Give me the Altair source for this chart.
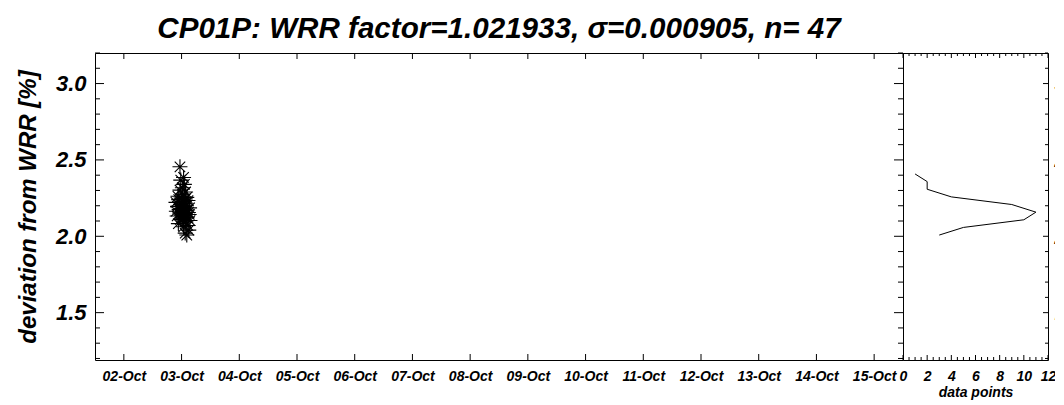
import altair as alt
import pandas as pd

FONT = "Liberation Sans"
TITLE = "CP01P: WRR factor=1.021933, σ=0.000905, n= 47"

# measurement times (local) and deviation from WRR [%]
times = [
    "2023-10-03T02:10", "2023-10-03T01:30", "2023-10-03T03:00",
    "2023-10-03T00:50", "2023-10-03T02:40", "2023-10-02T22:40", "2023-10-03T01:50", "2023-10-03T03:30",
    "2023-10-02T23:30", "2023-10-03T00:20", "2023-10-03T02:20", "2023-10-03T01:10", "2023-10-02T22:10",
    "2023-10-03T00:00", "2023-10-03T03:10", "2023-10-03T01:40", "2023-10-02T23:10", "2023-10-03T02:50",
    "2023-10-03T00:30", "2023-10-02T21:50", "2023-10-03T01:20", "2023-10-03T02:30", "2023-10-02T23:00",
    "2023-10-03T00:10", "2023-10-03T03:20", "2023-10-03T01:00", "2023-10-02T22:20", "2023-10-03T02:00",
    "2023-10-03T00:40",
    "2023-10-02T23:40", "2023-10-03T01:50", "2023-10-02T21:40", "2023-10-03T00:50", "2023-10-03T02:40",
    "2023-10-02T22:50", "2023-10-03T01:30", "2023-10-02T23:50", "2023-10-03T02:10",
    "2023-10-02T22:30", "2023-10-03T00:30", "2023-10-03T01:40", "2023-10-02T23:20",
    "2023-10-03T00:20", "2023-10-03T01:10",
    "2023-10-02T23:40", "2023-10-03T00:50",
    "2023-10-02T23:20",
]
deviation = [
    2.008, 2.021, 2.040,
    2.062, 2.071, 2.083, 2.094, 2.103,
    2.110, 2.115, 2.121, 2.127, 2.133, 2.138, 2.143, 2.148, 2.152, 2.156,
    2.160, 2.164, 2.168, 2.172, 2.176, 2.181, 2.186, 2.191, 2.196, 2.200, 2.205,
    2.210, 2.216, 2.222, 2.228, 2.234, 2.240, 2.245, 2.250, 2.255,
    2.262, 2.275, 2.290, 2.302,
    2.318, 2.340,
    2.368, 2.385,
    2.455,
]

# histogram of deviations
hist_bins = [2.008, 2.058, 2.108, 2.158, 2.208, 2.258, 2.308, 2.358, 2.408]
hist_counts = [3, 5, 10, 11, 9, 4, 2, 2, 1]

# tick positions
y_major = [1.5, 2.0, 2.5, 3.0]
y_minor = [1.2, 1.3, 1.4, 1.6, 1.7, 1.8, 1.9, 2.1, 2.2, 2.3, 2.4, 2.6, 2.7, 2.8, 2.9, 3.1, 3.2]
days = [2, 3, 4, 5, 6, 7, 8, 9, 10, 11, 12, 13, 14, 15]
hx_major = [0, 2, 4, 6, 8, 10, 12]
hx_minor = [0.5, 1, 1.5, 2.5, 3, 3.5, 4.5, 5, 5.5, 6.5, 7, 7.5, 8.5, 9, 9.5, 10.5, 11, 11.5]

W_MAIN, W_HIST, H = 808, 145, 307
Y_DOMAIN = [1.19, 3.20]
X_DOMAIN = [alt.DateTime(year=2023, month=10, date=1, hours=12),
            alt.DateTime(year=2023, month=10, date=15, hours=12)]

df = pd.DataFrame({"time": times, "dev": deviation})
hist_df = pd.DataFrame({"dev": hist_bins, "count": hist_counts})
ymaj_df = pd.DataFrame({"dev": y_major})
ymin_df = pd.DataFrame({"dev": y_minor})
day_df = pd.DataFrame({"time": [f"2023-10-{d:02d}T00:00" for d in days]})
hxmaj_df = pd.DataFrame({"count": hx_major})
hxmin_df = pd.DataFrame({"count": hx_minor})

yscale = alt.Scale(domain=Y_DOMAIN, nice=False, zero=False)
xscale = alt.Scale(domain=X_DOMAIN, nice=False)
hscale = alt.Scale(domain=[0, 12], nice=False, zero=False)

label_style = dict(labelFont=FONT, labelFontStyle="italic", labelFontWeight="bold",
                   labelColor="black", titleFont=FONT, titleFontStyle="italic",
                   titleFontWeight="bold", titleColor="black", ticks=False, tickSize=0,
                   domain=False, grid=False, labelFlush=False, labelOverlap=False)

X_MAIN = alt.X("time:T", scale=xscale,
               axis=alt.Axis(title=None, format="%d-%b", labelFontSize=14, labelPadding=9,
                             values=[alt.DateTime(year=2023, month=10, date=d) for d in days],
                             **label_style))
Y_MAIN = alt.Y("dev:Q", scale=yscale,
               axis=alt.Axis(title="deviation from WRR [%]", format=".1f", values=y_major,
                             labelFontSize=22, labelPadding=9, titleFontSize=24,
                             titlePadding=15, **label_style))
X_HIST = alt.X("count:Q", scale=hscale,
               axis=alt.Axis(title="data points", values=hx_major, labelFontSize=14,
                             labelPadding=9, titleFontSize=14, titlePadding=2, **label_style))
Y_HIST = alt.Y("dev:Q", scale=yscale,
               axis=alt.Axis(title=None, orient="right", format=".1f", values=y_major,
                             labelFontSize=22, labelPadding=6, **label_style))

star = "M0,-1L0,1M-1,0L1,0M-0.7,-0.7L0.7,0.7M-0.7,0.7L0.7,-0.7"

points = alt.Chart(df).mark_point(shape=star, filled=False, stroke="black",
                                  strokeWidth=1.1, size=225, opacity=1).encode(
    x=X_MAIN, y=Y_MAIN)


def rules(data, **enc):
    return alt.Chart(data).mark_rule(color="black", strokeWidth=1).encode(**enc)


main = alt.layer(
    rules(ymaj_df, y=Y_MAIN, x=alt.value(0), x2=alt.value(9)),
    rules(ymin_df, y=Y_MAIN, x=alt.value(0), x2=alt.value(5)),
    rules(ymaj_df, y=Y_MAIN, x=alt.value(W_MAIN), x2=alt.value(W_MAIN - 9)),
    rules(ymin_df, y=Y_MAIN, x=alt.value(W_MAIN), x2=alt.value(W_MAIN - 5)),
    rules(day_df, x=X_MAIN, y=alt.value(H), y2=alt.value(H - 6)),
    rules(day_df, x=X_MAIN, y=alt.value(0), y2=alt.value(6)),
    points,
).properties(
    width=W_MAIN, height=H,
    title=alt.TitleParams(TITLE, font=FONT, fontSize=29.6, fontStyle="italic",
                          fontWeight="bold", color="black", anchor="middle",
                          frame="group", offset=-15, baseline="alphabetic"),
)

line = alt.Chart(hist_df).mark_line(color="black", strokeWidth=1).encode(
    x=X_HIST, y=Y_HIST, order=alt.Order("dev:Q"))

hist = alt.layer(
    rules(hxmaj_df, x=X_HIST, y=alt.value(H), y2=alt.value(H - 5)),
    rules(hxmin_df, x=X_HIST, y=alt.value(H), y2=alt.value(H - 3)),
    rules(hxmaj_df, x=X_HIST, y=alt.value(0), y2=alt.value(5)),
    rules(hxmin_df, x=X_HIST, y=alt.value(0), y2=alt.value(3)),
    rules(ymaj_df, y=Y_HIST, x=alt.value(W_HIST), x2=alt.value(W_HIST - 5)),
    rules(ymin_df, y=Y_HIST, x=alt.value(W_HIST), x2=alt.value(W_HIST - 3)),
    line,
).properties(width=W_HIST, height=H)

chart = alt.hconcat(main, hist, spacing=0, bounds="flush").properties(
    padding={"left": 7, "top": 5, "right": -31, "bottom": 0},
    background="white",
).configure_view(stroke="black", strokeWidth=1)

chart.save("out.html", embed_options={"renderer": "svg", "actions": False})
